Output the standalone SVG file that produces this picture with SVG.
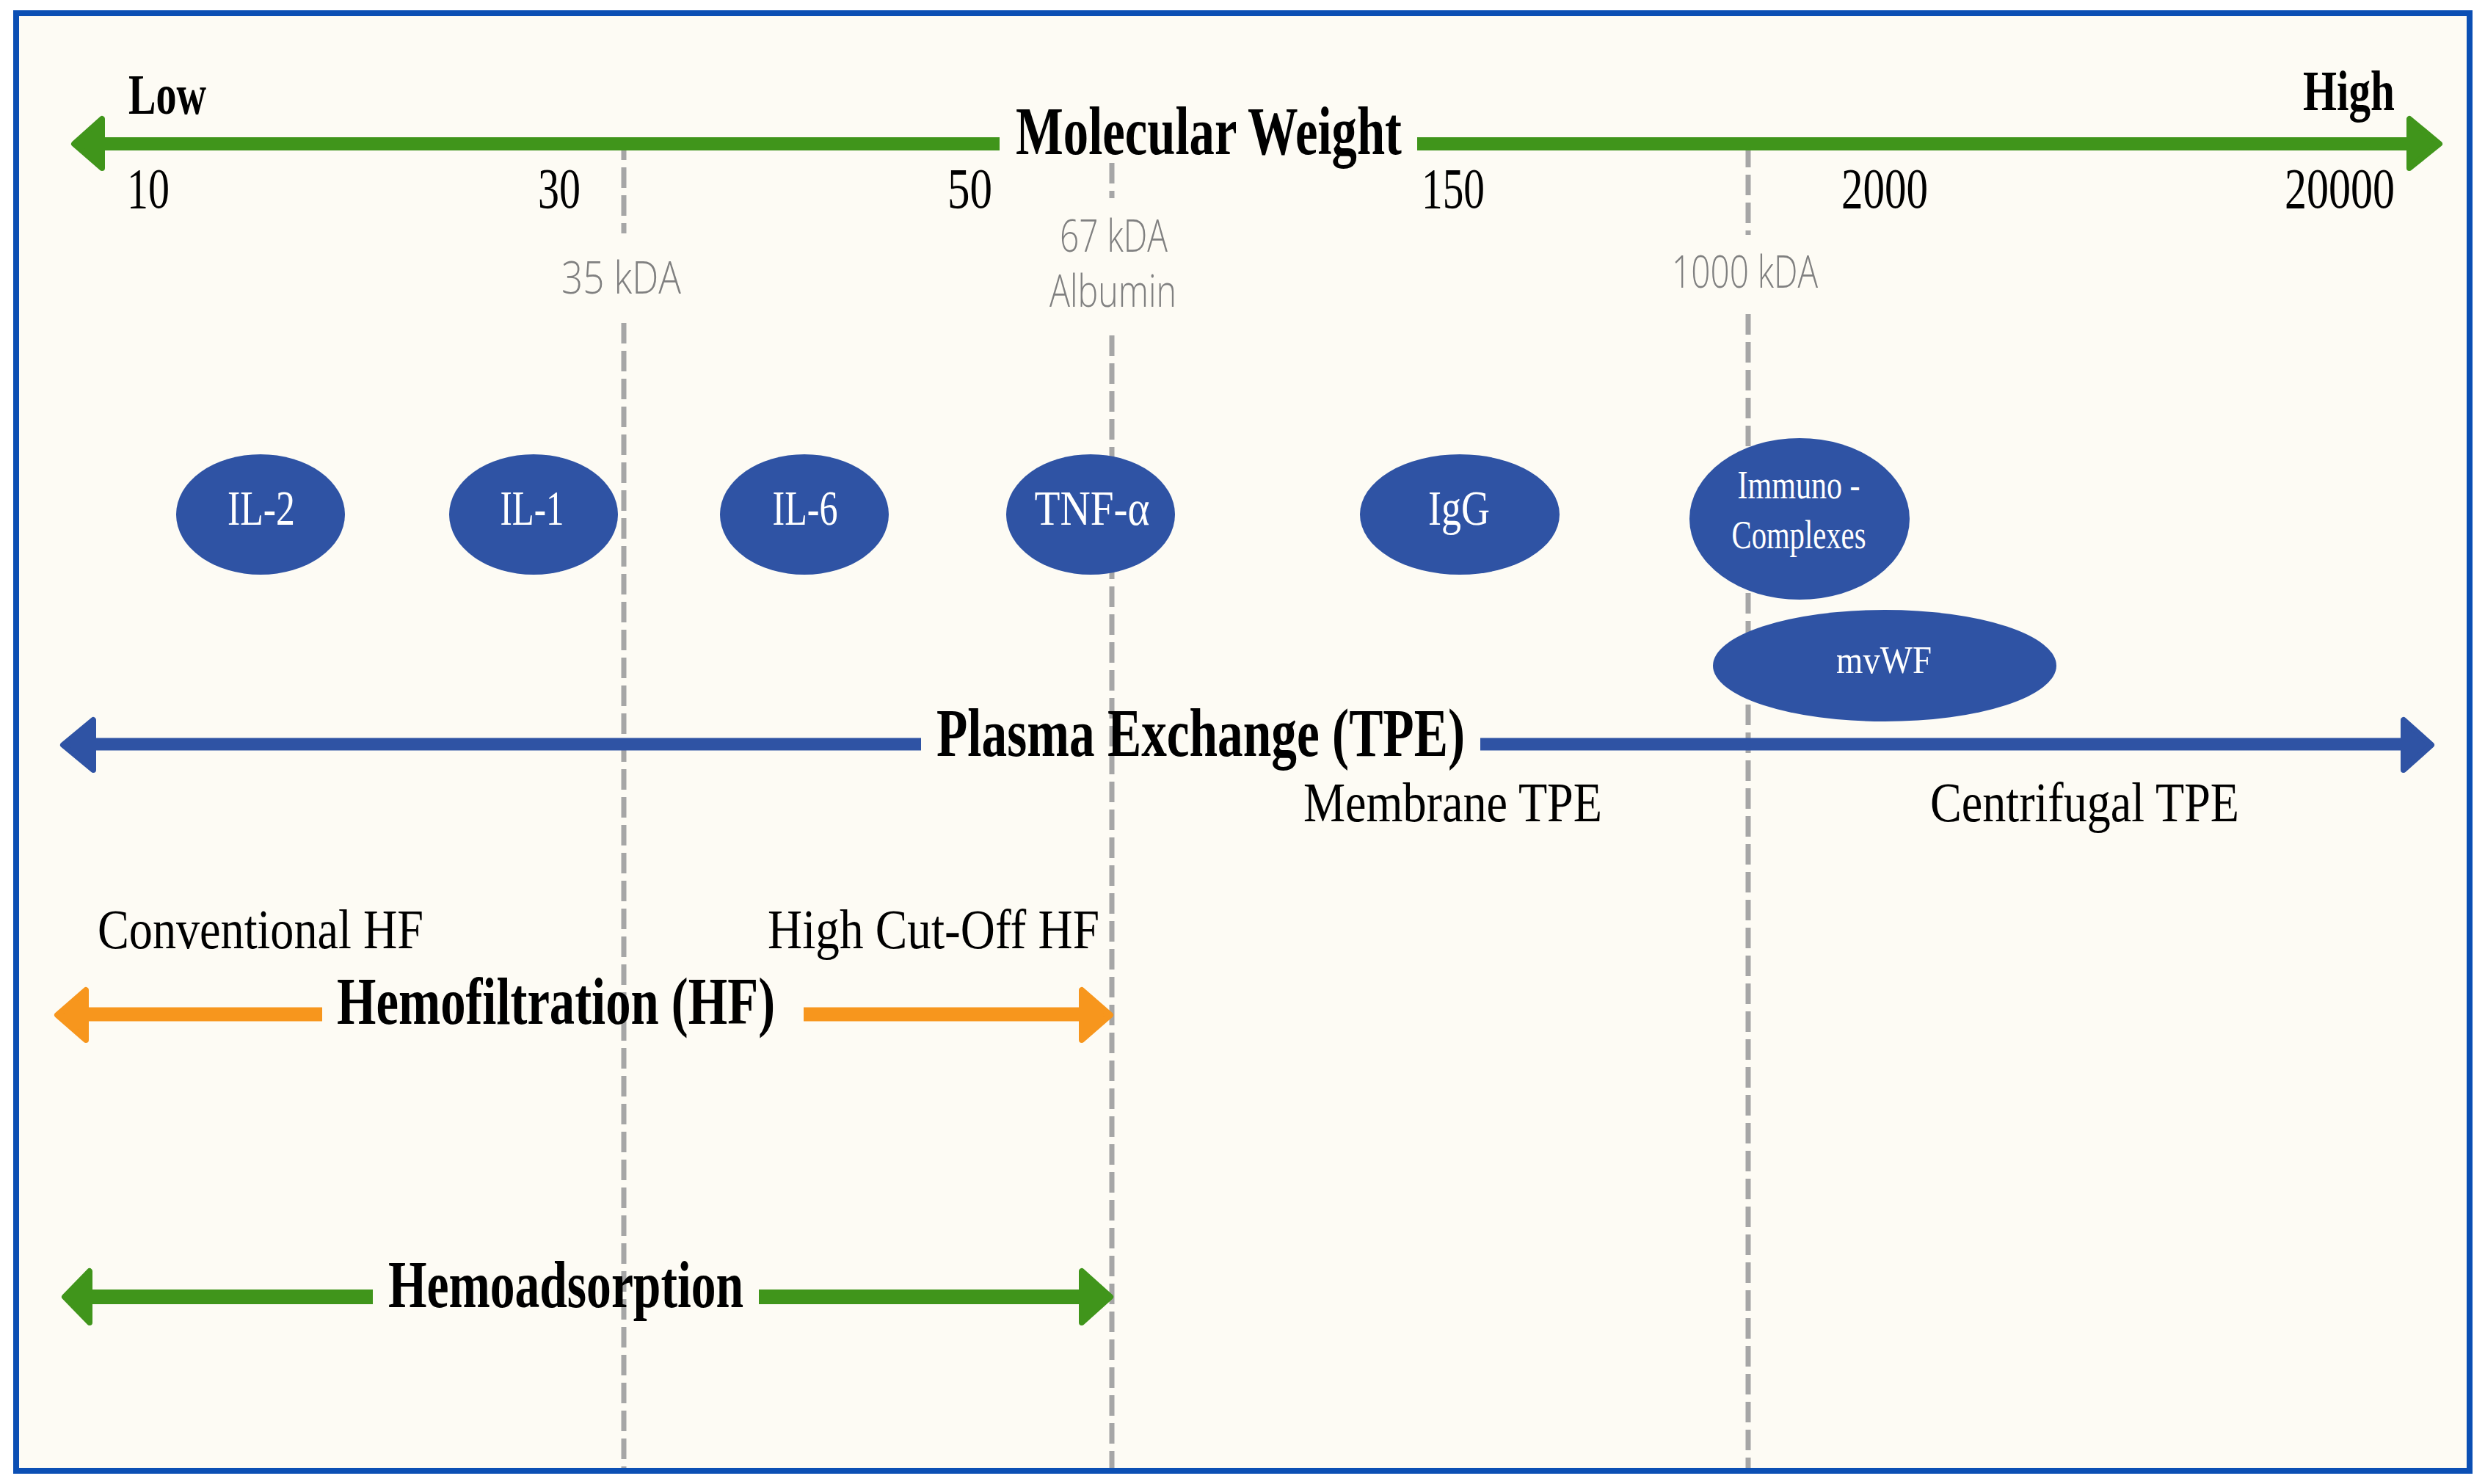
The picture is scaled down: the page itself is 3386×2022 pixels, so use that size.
<svg xmlns="http://www.w3.org/2000/svg" width="3386" height="2022" viewBox="0 0 3386 2022">
<style>
.serif{font-family:"Liberation Serif","Times New Roman",serif;fill:#000}
.b{font-weight:bold}
.num{font-size:78px}
.lbl{font-size:76px}
.big{font-size:94px;font-weight:bold}
.grey{font-family:"Open Sans","Liberation Sans",sans-serif;font-weight:300;fill:#808080;font-size:60px}
.node ellipse{fill:#2f53a4}
.node text{font-family:"Liberation Serif","Times New Roman",serif;fill:#fff;text-anchor:middle}
.dash{stroke:#a6a6a6;stroke-width:7;stroke-dasharray:28 10;fill:none}
.gline{stroke:#40951b;fill:none}
.ghead{fill:#40951b;stroke:#40951b;stroke-width:8;stroke-linejoin:round}
.bline{stroke:#2f53a4;fill:none}
.bhead{fill:#2f53a4;stroke:#2f53a4;stroke-width:8;stroke-linejoin:round}
.oline{stroke:#f7961d;fill:none}
.ohead{fill:#f7961d;stroke:#f7961d;stroke-width:8;stroke-linejoin:round}
</style>
<rect x="0" y="0" width="3386" height="2022" fill="#ffffff"/>
<rect x="22" y="18" width="3343" height="1986" fill="#fdfbf4" stroke="#0b4fb4" stroke-width="8"/>

<g id="guides">
  <line class="dash" x1="850" y1="190" x2="850" y2="318"/>
  <line class="dash" x1="850" y1="440" x2="850" y2="2000"/>
  <line class="dash" x1="1515" y1="222" x2="1515" y2="270"/>
  <line class="dash" x1="1515" y1="457" x2="1515" y2="2000"/>
  <line class="dash" x1="2382" y1="200" x2="2382" y2="320"/>
  <line class="dash" x1="2382" y1="428" x2="2382" y2="2000"/>
  <text class="grey" x="765" y="400" textLength="163" lengthAdjust="spacingAndGlyphs">35 kDA</text>
  <text class="grey" x="1444" y="343" textLength="147" lengthAdjust="spacingAndGlyphs">67 kDA</text>
  <text class="grey" x="1430" y="418" textLength="173" lengthAdjust="spacingAndGlyphs">Albumin</text>
  <text class="grey" x="2278" y="392" textLength="199" lengthAdjust="spacingAndGlyphs">1000 kDA</text>
</g>

<g id="connectors">
  <!-- Molecular weight axis -->
  <line class="gline" stroke-width="18" x1="135" y1="196" x2="1362" y2="196"/>
  <line class="gline" stroke-width="18" x1="1931" y1="196" x2="3287" y2="196"/>
  <polygon class="ghead" points="101,196 139,162 139,229"/>
  <polygon class="ghead" points="3324,196 3283,162 3283,229"/>
  <!-- Plasma exchange -->
  <line class="bline" stroke-width="17" x1="123" y1="1014" x2="1255" y2="1014"/>
  <line class="bline" stroke-width="17" x1="2017" y1="1014" x2="3279" y2="1014"/>
  <polygon class="bhead" points="86,1015 127,981 127,1049"/>
  <polygon class="bhead" points="3313,1015 3275,981 3275,1049"/>
  <!-- Hemofiltration -->
  <line class="oline" stroke-width="19" x1="113" y1="1382" x2="439" y2="1382"/>
  <line class="oline" stroke-width="19" x1="1095" y1="1382" x2="1478" y2="1382"/>
  <polygon class="ohead" points="78,1383 117,1349 117,1417"/>
  <polygon class="ohead" points="1513,1383 1474,1349 1474,1417"/>
  <!-- Hemoadsorption -->
  <line class="gline" stroke-width="20" x1="118" y1="1767" x2="508" y2="1767"/>
  <line class="gline" stroke-width="20" x1="1034" y1="1767" x2="1478" y2="1767"/>
  <polygon class="ghead" points="88,1767 122,1732 122,1802"/>
  <polygon class="ghead" points="1513,1767 1474,1732 1474,1802"/>
</g>

<g id="axis-labels">
  <text class="serif b" style="font-size:78px" x="175" y="155" textLength="106" lengthAdjust="spacingAndGlyphs">Low</text>
  <text class="serif b" style="font-size:78px" x="3138" y="150" textLength="125" lengthAdjust="spacingAndGlyphs">High</text>
  <text class="serif big" x="1384" y="210" textLength="526" lengthAdjust="spacingAndGlyphs">Molecular Weight</text>
  <text class="serif num" x="173" y="283" textLength="58" lengthAdjust="spacingAndGlyphs">10</text>
  <text class="serif num" x="733" y="283" textLength="58" lengthAdjust="spacingAndGlyphs">30</text>
  <text class="serif num" x="1291" y="283" textLength="61" lengthAdjust="spacingAndGlyphs">50</text>
  <text class="serif num" x="1937" y="283" textLength="86" lengthAdjust="spacingAndGlyphs">150</text>
  <text class="serif num" x="2509" y="283" textLength="118" lengthAdjust="spacingAndGlyphs">2000</text>
  <text class="serif num" x="3113" y="283" textLength="150" lengthAdjust="spacingAndGlyphs">20000</text>
</g>

<g id="node-il2" class="node">
  <ellipse cx="355" cy="701" rx="115" ry="82"/>
  <text x="356" y="715" style="font-size:68px" textLength="92" lengthAdjust="spacingAndGlyphs">IL-2</text>
</g>
<g id="node-il1" class="node">
  <ellipse cx="727" cy="701" rx="115" ry="82"/>
  <text x="725" y="715" style="font-size:68px" textLength="87" lengthAdjust="spacingAndGlyphs">IL-1</text>
</g>
<g id="node-il6" class="node">
  <ellipse cx="1096" cy="701" rx="115" ry="82"/>
  <text x="1097" y="715" style="font-size:68px" textLength="89" lengthAdjust="spacingAndGlyphs">IL-6</text>
</g>
<g id="node-tnf" class="node">
  <ellipse cx="1486" cy="701" rx="115" ry="82"/>
  <text x="1488" y="715" style="font-size:68px" textLength="157" lengthAdjust="spacingAndGlyphs">TNF-α</text>
</g>
<g id="node-igg" class="node">
  <ellipse cx="1989" cy="701" rx="136" ry="82"/>
  <text x="1988" y="715" style="font-size:68px" textLength="84" lengthAdjust="spacingAndGlyphs">IgG</text>
</g>
<g id="node-immuno" class="node">
  <ellipse cx="2452" cy="707" rx="150" ry="110"/>
  <text x="2451" y="679" style="font-size:54px" textLength="167" lengthAdjust="spacingAndGlyphs">Immuno -</text>
  <text x="2451" y="747" style="font-size:54px" textLength="183" lengthAdjust="spacingAndGlyphs">Complexes</text>
</g>
<g id="node-mvwf" class="node">
  <ellipse cx="2568" cy="907" rx="234" ry="76"/>
  <text x="2567" y="917" style="font-size:52px" textLength="130" lengthAdjust="spacingAndGlyphs">mvWF</text>
</g>

<g id="method-labels">
  <text class="serif big" x="1276" y="1030" textLength="720" lengthAdjust="spacingAndGlyphs">Plasma Exchange (TPE)</text>
  <text class="serif lbl" x="1776" y="1119" textLength="407" lengthAdjust="spacingAndGlyphs">Membrane TPE</text>
  <text class="serif lbl" x="2630" y="1119" textLength="421" lengthAdjust="spacingAndGlyphs">Centrifugal TPE</text>
  <text class="serif lbl" x="133" y="1292" textLength="444" lengthAdjust="spacingAndGlyphs">Conventional HF</text>
  <text class="serif lbl" x="1046" y="1292" textLength="452" lengthAdjust="spacingAndGlyphs">High Cut-Off HF</text>
  <text class="serif b" style="font-size:92px" x="459" y="1395" textLength="597" lengthAdjust="spacingAndGlyphs">Hemofiltration (HF)</text>
  <text class="serif b" style="font-size:92px" x="529" y="1781" textLength="484" lengthAdjust="spacingAndGlyphs">Hemoadsorption</text>
</g>
</svg>
